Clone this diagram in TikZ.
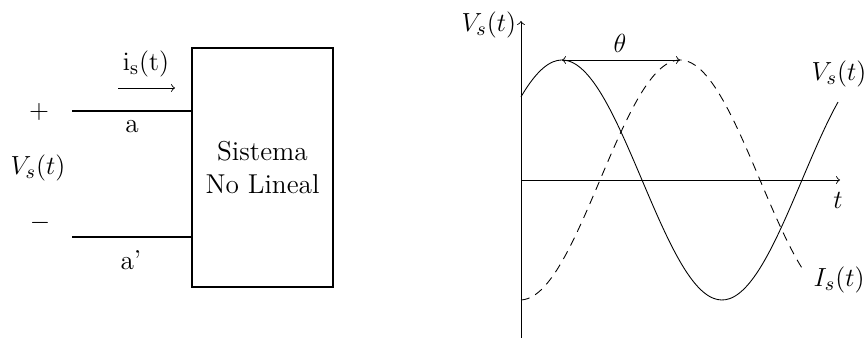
\documentclass[tikz,border=0pt]{standalone}
\usepackage{amsmath}
\usepackage{tikz}
\usetikzlibrary{positioning, calc}

\begin{document}
\begin{tikzpicture}[
  x=0.0161cm, y=-0.0161cm,
  font=\fontsize{12.5}{15}\selectfont,
  sysbox/.style={
    draw, thick, minimum width=2.27cm, minimum height=3.85cm,
    align=center, inner sep=0pt
  },
  wire/.style={thick},
  axis/.style={->},
  vcurve/.style={thin, smooth},
  icurve/.style={thin, smooth, dash pattern=on 4pt off 3pt},
  lbl/.style={inner sep=1pt}
]
\useasboundingbox (0,0) rectangle (866,341);

% ── Circuit side ─────────────────────────────────────────────
\node[sysbox] (sys) at (262.5,167.5) {Sistema\\No Lineal};
\coordinate (ta) at (72,111);
\coordinate (tb) at (72,237);
\draw[wire] (ta) -- (ta -| sys.west);
\draw[wire] (tb) -- (tb -| sys.west);

\node[lbl] (plus)  at (39,112) {$+$};
\node[lbl] (minus) at (40,223) {$-$};
\node[lbl] (vs)    at (38,168) {$V_s(t)$};
\node[lbl] (na)    at (132,127) {a};
\node[lbl] (nb)    at (131,260) {a'};

% current arrow
\coordinate (is0) at (118,88);
\coordinate (is1) at (175,88);
\draw[->] (is0) -- (is1);
\node[lbl] (is) at (146,64) {$\mathrm{i_s(t)}$};

% ── Waveforms ────────────────────────────────────────────────
\coordinate (org) at (521,180);
\coordinate (ytop) at (521,21);
\coordinate (ybot) at (521,338);
\coordinate (xend) at (840,180);
\draw (ybot) -- (org);
\draw[axis] (org) -- (ytop);
\draw[axis] (org) -- (xend);
\node[lbl, left=1pt of ytop, yshift=-2pt] (vax) {$V_s(t)$};
\node[lbl] (tax) at (838,200) {$t$};

\draw[vcurve] plot[domain=521:838, samples=80]
  (\x, {180 - 120*cos(1.125*(\x-562))});
\draw[icurve] plot[domain=521:802, samples=80]
  (\x, {180 - 120*cos(1.125*(\x-680))});

% phase shift
\coordinate (pk1) at (562,60);
\coordinate (pk2) at (680,60);
\draw[<->] (pk1) -- (pk2);
\node[lbl] (th) at (620,43) {$\theta$};

\node[lbl, anchor=west] (vlab) at (809,74) {$V_s(t)$};
\node[lbl, anchor=west] (ilab) at (811,280) {$I_s(t)$};

\end{tikzpicture}
\end{document}
